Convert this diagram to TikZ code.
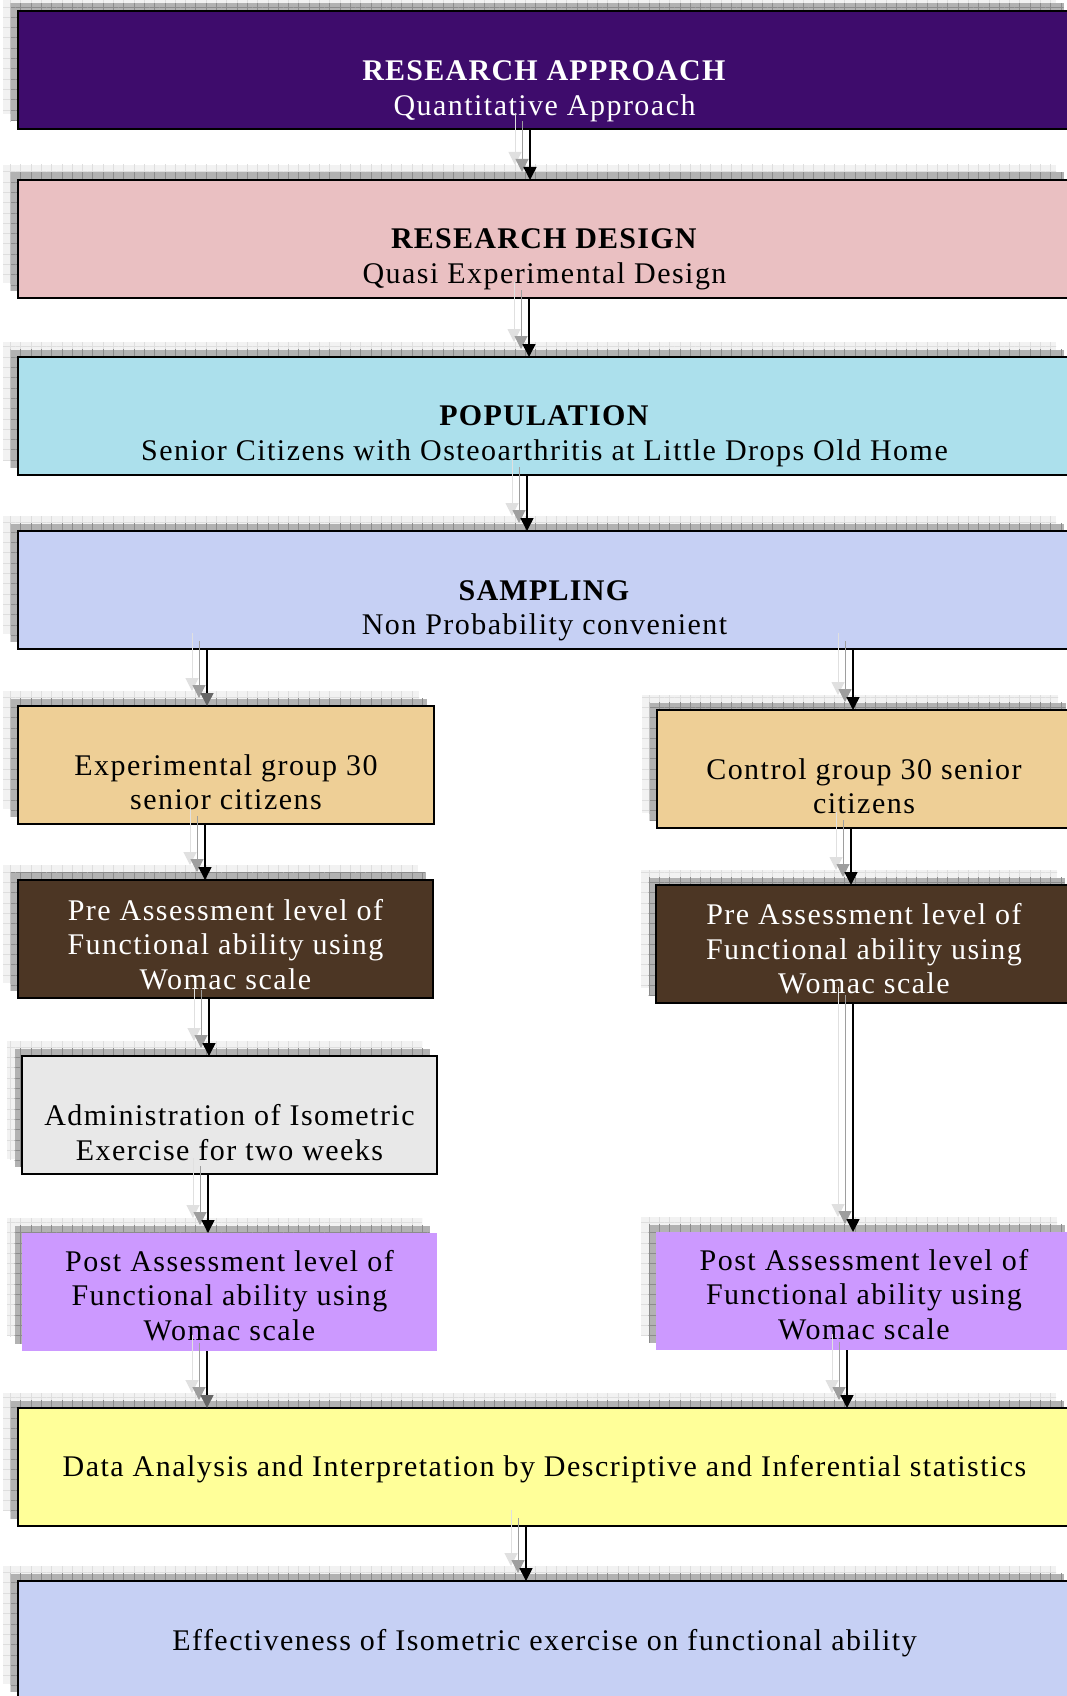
\documentclass[tikz,border=0pt]{standalone}
\usepackage{fontspec}
\setmainfont{Liberation Serif}[LetterSpace=4.9,BoldFeatures={LetterSpace=4.2}]
\usetikzlibrary{arrows.meta,patterns.meta,calc}
\definecolor{cPurple}{RGB}{62,12,108}
\definecolor{cPink}{RGB}{234,192,194}
\definecolor{cAqua}{RGB}{172,224,236}
\definecolor{cLav}{RGB}{198,208,244}
\definecolor{cTan}{RGB}{238,207,150}
\definecolor{cBrown}{RGB}{76,54,36}
\definecolor{cMarble}{RGB}{232,232,232}
\definecolor{cPost}{RGB}{204,153,255}
\definecolor{cYellow}{RGB}{255,255,153}
\tikzset{
  flowbox/.style={draw=black, line width=1.8pt, minimum height=118pt, inner sep=0pt, outer sep=0pt},
  noborder/.style={draw=none},
  shadowD/.style={fill=black!30, postaction={pattern={Hatch[angle=0,distance=10.3pt,line width=0.5pt]}, pattern color=black!45}},
  shadowL/.style={fill=black!5, postaction={pattern={Hatch[angle=0,distance=10.3pt,line width=0.5pt]}, pattern color=black!13}},
  txt/.style={inner sep=0pt, align=center, font=\fontsize{30}{34.5}\selectfont},
  arr/.style={line width=1.6pt, draw=black, -{Triangle[width=13pt,length=13pt,color=#1]}},
  arr/.default=black,
  ghostD/.style={line width=1pt, draw=black!38, -{Triangle[width=13pt,length=13pt,color=black!38]}},
  ghostL/.style={line width=1pt, draw=black!12, -{Triangle[width=13pt,length=13pt,color=black!12]}},
}
% #1 name, #2 style, #3 x (left), #4 y (top), #5 width
\newcommand\flowboxat[5]{%
  \fill[shadowL] (#3-15,#4-15) rectangle ++(#5,118);
  \fill[shadowD] (#3-7.5,#4-7.5) rectangle ++(#5,118);
  \node[flowbox,#2,minimum width=#5pt,anchor=north west] (#1) at (#3,#4) {};
}
% #1 head colour, #2 x coordinate, #3 source, #4 target
\newcommand\flowarrow[4][black]{%
  \draw[ghostL] ($(#2 |- #3.south)+(-15,-16)$) -- ($(#2 |- #4.north)+(-15,-15)$);
  \draw[ghostD] ($(#2 |- #3.south)+(-8,-8)$) -- ($(#2 |- #4.north)+(-8,-8)$);
  \draw[arr=#1] (#2 |- #3.south) -- (#2 |- #4.north);
}
\begin{document}
\begin{tikzpicture}[x=1pt,y=-1pt]
\useasboundingbox (0,0) rectangle (1067,1696);
\clip (0,0) rectangle (1067,1696);
\fill[white] (0,0) rectangle (1067,1696);

% boxes
\flowboxat{b1}{fill=cPurple}{18}{11}{1053}
\flowboxat{b2}{fill=cPink}{18}{180}{1053}
\flowboxat{b3}{fill=cAqua}{18}{357}{1053}
\flowboxat{b4}{fill=cLav}{18}{531}{1053}
\flowboxat{exp}{fill=cTan}{18}{706}{416}
\flowboxat{ctl}{fill=cTan}{657}{710}{416}
\flowboxat{preL}{fill=cBrown}{18}{880}{415}
\flowboxat{preR}{fill=cBrown}{656}{885}{416}
\flowboxat{adm}{fill=cMarble}{22}{1056}{415}
\flowboxat{postL}{fill=cPost,noborder}{22}{1233}{415}
\flowboxat{postR}{fill=cPost,noborder}{656}{1232}{416}
\flowboxat{data}{fill=cYellow}{18}{1408}{1053}
\flowboxat{eff}{fill=cLav}{18}{1581}{1053}

% texts
\node[txt,text=white] (t1) at (544.5,91) {\strut\textbf{RESEARCH APPROACH}\\\strut Quantitative Approach};
\node[txt] (t2) at (544.5,259) {\strut\textbf{RESEARCH DESIGN}\\\strut Quasi Experimental Design};
\node[txt] (t3) at (544.5,436) {\strut\textbf{POPULATION}\\\strut Senior Citizens with Osteoarthritis at Little Drops Old Home};
\node[txt] (t4) at (544.5,610.5) {\strut\textbf{SAMPLING}\\\strut Non Probability convenient};
\node[txt] (texp) at (226,785.5) {\strut Experimental group 30\\\strut senior citizens};
\node[txt] (tctl) at (864,789.5) {\strut Control group 30 senior\\\strut citizens};
\node[txt,text=white] (tpreL) at (225.5,948) {\strut Pre Assessment level of\\\strut Functional ability using\\\strut Womac scale};
\node[txt,text=white] (tpreR) at (864,952.5) {\strut Pre Assessment level of\\\strut Functional ability using\\\strut Womac scale};
\node[txt] (tadm) at (229.5,1136) {\strut Administration of Isometric\\\strut Exercise for two weeks};
\node[txt] (tpostL) at (229.5,1299) {\strut Post Assessment level of\\\strut Functional ability using\\\strut Womac scale};
\node[txt] (tpostR) at (864,1298) {\strut Post Assessment level of\\\strut Functional ability using\\\strut Womac scale};
\node[txt] (tdata) at (544.5,1470) {\strut Data Analysis and Interpretation by Descriptive and Inferential statistics};
\node[txt] (teff) at (544.5,1644) {\strut Effectiveness of Isometric exercise on functional ability};

% arrow x positions
\coordinate (a1) at (530,0);
\coordinate (a2) at (529,0);
\coordinate (a3) at (527,0);
\coordinate (a4) at (207,0);
\coordinate (a5) at (853,0);
\coordinate (a6) at (205,0);
\coordinate (a7) at (851,0);
\coordinate (a8) at (209,0);
\coordinate (a9) at (853,0);
\coordinate (a10) at (208,0);
\coordinate (a11) at (207,0);
\coordinate (a12) at (847,0);
\coordinate (a13) at (526,0);

\flowarrow{a1}{b1}{b2}
\flowarrow{a2}{b2}{b3}
\flowarrow{a3}{b3}{b4}
\flowarrow[black!60]{a4}{b4}{exp}
\flowarrow{a5}{b4}{ctl}
\flowarrow{a6}{exp}{preL}
\flowarrow{a7}{ctl}{preR}
\flowarrow{a8}{preL}{adm}
\flowarrow{a9}{preR}{postR}
\flowarrow{a10}{adm}{postL}
\flowarrow[black!60]{a11}{postL}{data}
\flowarrow{a12}{postR}{data}
\flowarrow{a13}{data}{eff}
\end{tikzpicture}
\end{document}
